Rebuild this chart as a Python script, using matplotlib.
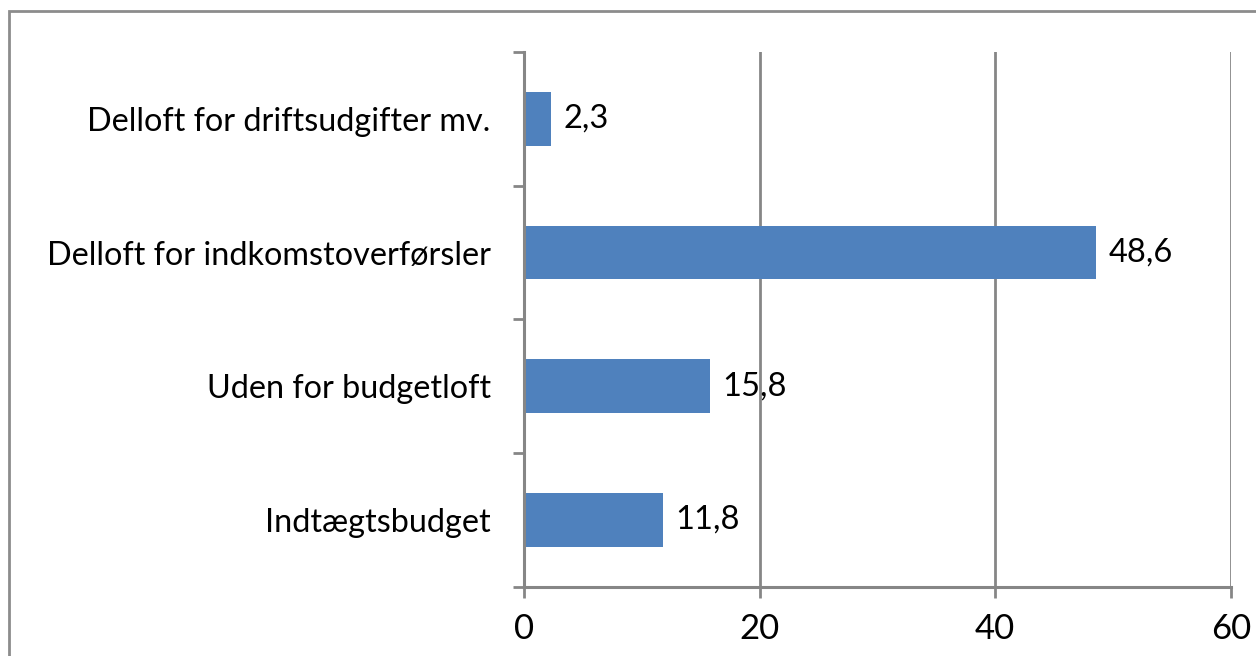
import matplotlib.pyplot as plt
import matplotlib.patches as patches
import numpy as np

categories = ['Indtægtsbudget', 'Uden for budgetloft',
              'Delloft for indkomstoverførsler', 'Delloft for driftsudgifter mv.']
values = [11.8, 15.8, 48.6, 2.3]
value_labels = ['11,8', '15,8', '48,6', '2,3']
x_ticks = [0, 20, 40, 60]

plt.rcParams['font.family'] = ['Lato', 'DejaVu Sans']
grey = '#868686'

fig = plt.figure(figsize=(12.56, 6.56), dpi=100)
ax = fig.add_axes([0.4172, 0.1056, 0.9799 - 0.4172, 0.9207 - 0.1056])

y = np.arange(len(categories))
ax.barh(y, values, height=0.4, color='#4F81BD', zorder=3)

for yi, v, lab in zip(y, values, value_labels):
    ax.annotate(lab, (v, yi), xytext=(9, 0), textcoords='offset points',
                va='center', ha='left', fontsize=23.5, color='black')

ax.set_xlim(0, 60)
ax.set_ylim(-0.5, len(categories) - 0.5)
ax.set_xticks(x_ticks)
ax.set_xticklabels([str(t) for t in x_ticks], fontsize=25)
ax.tick_params(axis='x', length=8, width=2, color=grey, pad=11)

ax.set_yticks(y)
ax.set_yticklabels(categories, fontsize=23.3)
ax.set_yticks(np.arange(-0.5, len(categories)), minor=True)
ax.tick_params(axis='y', which='major', length=0, pad=24)
ax.tick_params(axis='y', which='minor', length=8, width=2, color=grey)

ax.grid(axis='x', color=grey, linewidth=2, zorder=0)
for s in ['top', 'right']:
    ax.spines[s].set_visible(False)
for s in ['left', 'bottom']:
    ax.spines[s].set_color(grey)
    ax.spines[s].set_linewidth(2.2)
    ax.spines[s].set_zorder(4)

# chart border (runs off the right and bottom edges)
border = patches.Rectangle((9 / 1256, -0.1), 1.2, 1.1 - 10.5 / 656,
                           transform=fig.transFigure, fill=False,
                           edgecolor='#8c8c8c', linewidth=2)
fig.patches.append(border)

fig.savefig('out.png', dpi=100)
